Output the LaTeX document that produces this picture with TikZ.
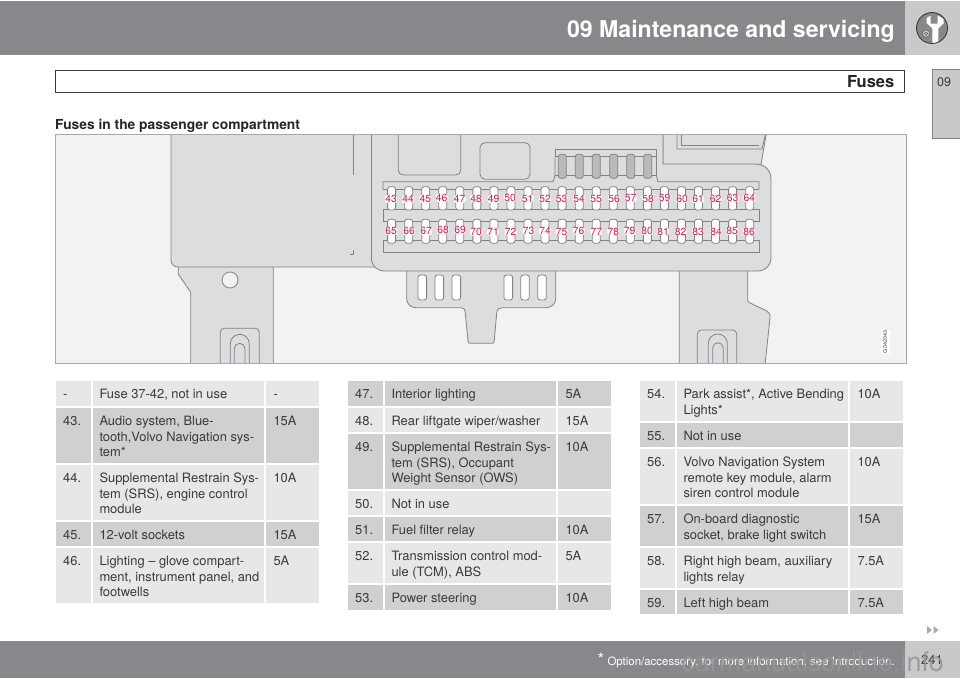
\documentclass[tikz,border=0pt]{standalone}
\usepackage{fontspec}
\setmainfont{TeX Gyre Heros}
\usetikzlibrary{calc}
\definecolor{hdr}{HTML}{87888B}
\definecolor{hdrl}{HTML}{C8C9CB}
\definecolor{rowd}{HTML}{CFD0D2}
\definecolor{rowl}{HTML}{E6E7E8}
\definecolor{txt}{HTML}{3A3A3C}
\definecolor{panel}{HTML}{DCDDDF}
\definecolor{bgd}{HTML}{F1F2F4}
\definecolor{ln}{HTML}{808285}
\definecolor{frm}{HTML}{A7A9AC}
\definecolor{fusegray}{HTML}{B9BABC}
\definecolor{lab}{HTML}{D8174F}
\definecolor{wmark}{HTML}{949597}
\tikzset{
  x=1pt,y=-1pt,
  pl/.style={draw=ln,line width=.8pt,line join=round},
  pf/.style={pl,fill=panel},
  cell/.style={anchor=north west,inner sep=0pt,align=left,text=txt,font=\fontsize{12.9}{15.6}\selectfont},
  fuselab/.style={text=lab,font=\fontsize{10.3}{11}\selectfont,fill=white,inner sep=.1pt,rounded corners=2pt},
  whitefuse/.style={pl,fill=white,rounded corners=2.5pt},
  grayfuse/.style={pl,fill=fusegray,rounded corners=2.5pt},
}
\newcommand{\st}{\rule{0pt}{10pt}}
% x0, top, bottom, fill, number, text, ampere
\newcommand{\trow}[7]{%
  \fill[#4] (#1,#2) rectangle ({#1+35},#3);
  \fill[#4] ({#1+37},#2) rectangle ({#1+208},#3);
  \fill[#4] ({#1+210},#2) rectangle ({#1+263},#3);
  \node[cell] at ({#1+7},{#2+7.5}) {\st #5};
  \node[cell] at ({#1+43.3},{#2+7.5}) {\st #6};
  \node[cell] at ({#1+217.3},{#2+7.5}) {\st #7};
}
% left, right, top of the outer slot, then the two arches: left, right, top
\newcommand{\slotshape}[9]{%
  \draw[pl,rounded corners=4pt] (#1,366) -- (#1,#3) -- (#2,#3) -- (#2,366);
  \draw[pl] (#4,366) -- (#4,{#6+(#5-#4)/2}) arc (180:360:{(#5-#4)/2}) -- (#5,366);
  \draw[pl] (#7,366) -- (#7,{#9+(#8-#7)/2}) arc (180:360:{(#8-#7)/2}) -- (#8,366);
}
\begin{document}
\begin{tikzpicture}
\useasboundingbox (0,0) rectangle (960,678);
\fill[white] (0,0) rectangle (960,678);
% header
\fill[hdr] (0,1) rectangle (904.5,55);
\fill[hdrl] (905,1) rectangle (960,55);
\node[anchor=base east,inner sep=0,text=white,font=\bfseries\fontsize{23.1}{25}\selectfont] (title) at (895,37.5) {09 Maintenance and servicing};
% wrench icon
\fill[hdr] (932,28) circle (15.5);
\begin{scope}
\clip (932,28) circle (15.5);
\fill[white] (926.7,18) -- (926.7,23) -- (932.3,28.5) -- (932.3,45) -- (938.3,45) -- (938.3,28.5) -- (943.5,23.5) -- (943.5,19) -- (937.7,15.5) -- (937.7,23.5) -- (930.7,23.5) -- (930.7,15.5) -- cycle;
\end{scope}
\draw[black!80,line width=.8pt] (932,28) circle (15.5);
\draw[black!70,line width=.4pt,fill=hdrl] (926,33.5) circle (3.6);
\draw[black!70,line width=.4pt] (926,33.5) circle (1.7);
% section bar
\draw[draw=txt,line width=1pt] (55,70) rectangle (904.5,92.5);
\node[anchor=base east,inner sep=0,text=black!85,font=\bfseries\fontsize{16.5}{18}\selectfont] (sect) at (894.5,87.5) {Fuses};
% tab
\draw[draw=ln,line width=.8pt,fill=hdrl] (961,69.5) -- (932.5,69.5) -- (932.5,138.5) -- (961,138.5);
\node[anchor=base west,inner sep=0,text=txt,font=\fontsize{12.5}{14}\selectfont] (tab) at (937,86.5) {09};
% heading
\node[anchor=base west,inner sep=0,text=black!85,font=\bfseries\fontsize{13.8}{15}\selectfont] (head) at (55,129) {Fuses in the passenger compartment};
% figure
\fill[bgd] (55,134) rectangle (906,363);
\begin{scope}
\clip (55,134) rectangle (906,363);
% legs
\draw[pf] (178.3,262) -- (178.3,274) -- (190.7,292.3) -- (190.7,365) -- (273.3,365) -- (273.3,262);
\fill[bgd] (230,280) circle (8); \draw[pl] (230,280) circle (8);
\slotshape{220.3}{259.3}{328.3}{230.3}{249.3}{334.3}{234.3}{245}{343.3}
\draw[pf] (679.3,262) -- (679.3,365) -- (765,365) -- (770,318) .. controls (770.5,314) and (769,312) .. (766,310.5) -- (750,303) .. controls (748,302) and (747.7,301) .. (747.7,299) -- (747.7,262);
\slotshape{697.3}{736.7}{330}{708.3}{727.3}{334}{712.7}{723.3}{342.7}
% tab below the box
\draw[pf] (406.7,265) -- (406.7,299) .. controls (406.7,304) and (411,307.7) .. (416,307.7) -- (460,307.7) .. controls (463.5,307.7) and (465,309) .. (465.3,313) -- (468,341) .. controls (468.2,342.7) and (469,343.3) .. (470,343.3) -- (492,343.3) .. controls (493.5,343.3) and (494,342.7) .. (494.2,341) -- (496.7,313) .. controls (497,309) and (499,307.7) .. (502,307.7) -- (546,307.7) .. controls (551,307.7) and (555.7,304) .. (555.7,299) -- (555.7,265);
\foreach \cx in {422.3,439.3,456.3,508.3,525,542}
  \draw[whitefuse] ({\cx-4.3},275) rectangle ({\cx+4.3},300);
% left panel
\draw[pf] (171,130) -- (171,260) .. controls (171,264) and (174,267) .. (178,267) -- (385,267) -- (385,130) -- cycle;
\draw[pl] (353,134) -- (353,175);
\draw[pl] (353,250) -- (353,254.5) -- (350,254.5);
% top-right housing
\draw[pf] (663,130) -- (663,170) -- (760,170) -- (767,130) -- cycle;
\draw[pl] (677,134) -- (677,149) -- (762,149) -- (765.5,134);
\draw[pl] (681,134) -- (681,145.5) -- (759,145.5);
% main fuse box
\fill[panel] (371.5,130) -- (371.5,258) .. controls (371.5,266) and (377,271) .. (385,271) -- (757,271) .. controls (765,271) and (771,266) .. (771,258) -- (771,180) .. controls (771,170) and (765,164) .. (755,164) -- (663,164) -- (663,130) -- cycle;
\draw[pl] (371.5,130) -- (371.5,258) .. controls (371.5,266) and (377,271) .. (385,271) -- (757,271) .. controls (765,271) and (771,266) .. (771,258) -- (771,180) .. controls (771,170) and (765,164) .. (755,164) -- (663,164) -- (663,130);
% objects inside box
\draw[pl,rounded corners=5pt] (398.3,130) -- (398.3,175) -- (460.7,175) -- (460.7,130);
\draw[pl,rounded corners=5pt] (480,142.7) rectangle (530,179.3);
% relay strip
\draw[pl] (383,189.3) -- (383,181.7) -- (553,181.7) -- (555,176) -- (555,157);
\draw[pl] (555,157) -- (555,149.5) -- (656.5,149.5) -- (656.5,157);
\draw[pl] (656.5,157) -- (656.5,176) -- (658,181.7) -- (759,181.7) -- (759,189.3);
\draw[pl] (555,156.7) -- (656.5,156.7);
\draw[pl] (555,175.7) -- (656.5,175.7);
\foreach \cx in {562.3,579.3,596.3,613.7,630.7,647.7}
  \draw[grayfuse] ({\cx-4},154.3) rectangle ({\cx+4},178.3);
% fuse bands
\draw[pl] (383,189.3) -- (759,189.3);
\draw[pl] (383,221.7) -- (383,209) -- (759,209) -- (759,221.7);
\draw[pl] (383,221.7) -- (759,221.7);
\draw[pl] (383,252.3) -- (383,240) -- (759,240) -- (759,252.3) -- cycle;
\foreach \i in {0,...,21} {
  \draw[whitefuse] ({387.6+17.05*\i},186.7) rectangle ({395.6+17.05*\i},210);
  \draw[whitefuse] ({387.6+17.05*\i},219.3) rectangle ({395.6+17.05*\i},243.3);
}
% fuse numbers
\foreach \n/\px/\py in {43/391/199,44/408/199,45/425.3/199,46/441.7/198,47/459.7/199,48/476/198.5,49/493.7/199,50/510/198,51/527.7/198.5,52/545/198.5,53/561.7/198.5,54/579/198.5,55/596/198.5,56/614/198.5,57/630.7/198,58/648/198.5,59/664.7/198,60/682/199,61/698/199,62/715.7/198.5,63/732.7/198,64/749.3/198,
65/391/231,66/409/231,67/426/231,68/443/230,69/460/230,70/476/232,71/493/232,72/510.7/232,73/528.7/231,74/545/231,75/561.7/231.5,76/578.7/231,77/596.3/231.5,78/613.3/231.5,79/629.7/231,80/647/231,81/663/231.5,82/680.7/231.5,83/698/231.5,84/716/231.5,85/732/231,86/749/231.5}
  \node[fuselab] (f\n) at (\px,\py) {\n};
% code
\fill[white] (881,330) rectangle (889.5,353.5);
\node[rotate=90,inner sep=0,text=black!70,font=\fontsize{5.5}{6}\selectfont] (code) at (885.2,341.7) {G042043};
\end{scope}
\draw[frm,line width=1pt] (55,134) rectangle (906,363);
% tables
\trow{56}{381}{406}{rowl}{-}{Fuse 37-42, not in use}{-}
\trow{56}{408}{463}{rowd}{43.}{Audio system, Blue-\\tooth,Volvo Navigation sys-\\tem*}{15A}
\trow{56}{465}{520}{rowl}{44.}{Supplemental Restrain Sys-\\tem (SRS), engine control\\module}{10A}
\trow{56}{522}{546}{rowd}{45.}{12-volt sockets}{15A}
\trow{56}{548}{603}{rowl}{46.}{Lighting – glove compart-\\ment, instrument panel, and\\footwells}{5A}
\trow{348}{381}{406}{rowd}{47.}{Interior lighting}{5A}
\trow{348}{408}{432}{rowl}{48.}{Rear liftgate wiper/washer}{15A}
\trow{348}{434}{489}{rowd}{49.}{Supplemental Restrain Sys-\\tem (SRS), Occupant\\Weight Sensor (OWS)}{10A}
\trow{348}{491}{515}{rowl}{50.}{Not in use}{}
\trow{348}{517}{541}{rowd}{51.}{Fuel filter relay}{10A}
\trow{348}{543}{583}{rowl}{52.}{Transmission control mod-\\ule (TCM), ABS}{5A}
\trow{348}{585}{610}{rowd}{53.}{Power steering}{10A}
\trow{640}{381}{421}{rowl}{54.}{Park assist*, Active Bending\\Lights*}{10A}
\trow{640}{423}{447}{rowd}{55.}{Not in use}{}
\trow{640}{449}{504}{rowl}{56.}{Volvo Navigation System\\remote key module, alarm\\siren control module}{10A}
\trow{640}{506}{546}{rowd}{57.}{On-board diagnostic\\socket, brake light switch}{15A}
\trow{640}{548}{588}{rowl}{58.}{Right high beam, auxiliary\\lights relay}{7.5A}
\trow{640}{590}{614}{rowd}{59.}{Left high beam}{7.5A}
% continuation arrows
\fill[frm] (927,626) -- (932,630) -- (927,634) -- cycle;
\fill[frm] (933.5,626) -- (938.5,630) -- (933.5,634) -- cycle;
% footer
\fill[hdr] (0,641) rectangle (904.5,678);
\fill[hdrl] (905,641) rectangle (960,678);
\node[anchor=base east,inner sep=0,text=white,font=\fontsize{11.45}{14}\selectfont] (foot) at (895,665) {{\fontsize{17}{17}\selectfont *} Option/accessory, for more information, see Introduction.};
\node[anchor=base,inner sep=0,text=txt,font=\fontsize{13}{15}\selectfont] (page) at (932,664.5) {241};
\node[anchor=base east,inner sep=0,text=wmark,opacity=.85,font=\fontsize{27}{30}\selectfont] (wm) at (944,671.5) {carmanualsonline.info};
\end{tikzpicture}
\end{document}
